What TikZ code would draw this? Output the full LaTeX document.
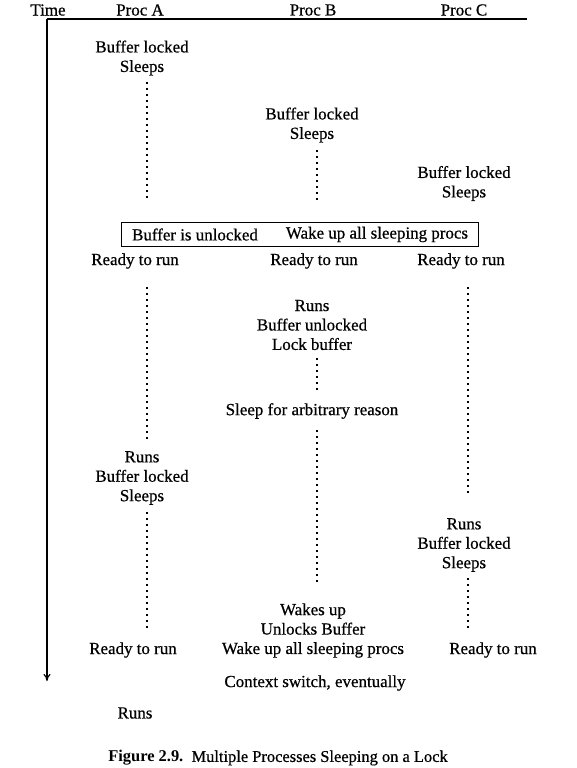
\documentclass[tikz,border=0pt]{standalone}
\usepackage{fontspec}
\setmainfont{Liberation Serif}[UprightFeatures={FakeBold=0.6}]
\usetikzlibrary{fit,arrows.meta}

\tikzset{
  lbl/.style={inner sep=0pt, align=center, font=\fontsize{17}{19.5}\selectfont},
  dotline/.style={line width=1.5bp, dash pattern=on 1.5bp off 4.5bp},
  hold/.style={draw, line width=1.1bp, inner sep=0pt}
}

\begin{document}
\begin{tikzpicture}[x=1bp, y=-1bp]
    \useasboundingbox (0,0) rectangle (577,768);
    % header and time axis
    \foreach \name/\x/\txt in {time/48/Time, pa/140/Proc A, pb/313/Proc B, pc/464/Proc C}{%
      \node[lbl] (\name) at (\x,10) {\txt};
    }
    \coordinate (top) at (47,19);
    \coordinate (right) at (527,19);
    \coordinate (bottom) at (47,681);
    \draw[line width=1.2bp] (top) -- (right);
    \draw[line width=1.2bp, -{To[length=7bp,width=7bp]}] (top) -- (bottom);
    % first round: everybody sleeps
    \node[lbl] (a1) at (142,58) {Buffer locked\\Sleeps};
    \node[lbl] (b1) at (312,125) {Buffer locked\\Sleeps};
    \node[lbl] (c1) at (464,183.5) {Buffer locked\\Sleeps};
    % the unlock
    \node[lbl] (unl) at (195,234.5) {Buffer is unlocked};
    \node[lbl] (wak) at (377,234.5) {Wake up all sleeping procs};
    \node[hold, fit={(unl) (wak)}, inner xsep=10bp, inner ysep=4.5bp] (box) {};
    \node[lbl] (ra) at (135,261) {Ready to run};
    \node[lbl] (rb) at (314,261) {Ready to run};
    \node[lbl] (rc) at (461,261) {Ready to run};
    % second round
    \node[lbl] (b2) at (312,325) {Runs\\Buffer unlocked\\Lock buffer};
    \node[lbl] (b3) at (312,411) {Sleep for arbitrary reason};
    \node[lbl] (a2) at (142,478) {Runs\\Buffer locked\\Sleeps};
    \node[lbl] (c2) at (464,545) {Runs\\Buffer locked\\Sleeps};
    \node[lbl] (b4) at (313,630.5) {Wakes up\\Unlocks Buffer\\Wake up all sleeping procs};
    \node[lbl] (ra2) at (133,650) {Ready to run};
    \node[lbl] (rc2) at (493,650) {Ready to run};
    \node[lbl] (ctx) at (315,683) {Context switch, eventually};
    \node[lbl] (runs) at (135,713) {Runs};
    % dotted waits, column x = 147 / 317 / 468
    \foreach \w/\x/\ya/\yb in {wa1/147/82/200, wb1/317/150/200, wa2/147/287/440,
                               wb2/317/358/390, wb3/317/430/583, wa3/147/512/630,
                               wc2/468/287/497, wc3/468/578/630}{%
      \coordinate (\w-s) at (\x,\ya);
      \coordinate (\w-e) at (\x,\yb);
      \draw[dotline] (\w-s) -- (\w-e);
    }
    % caption
    \node[inner sep=0pt, font=\fontsize{16.5}{19}\selectfont] (cap) at (278,758)
      {\textbf{Figure 2.9.}\ \ Multiple Processes Sleeping on a Lock};
\end{tikzpicture}
\end{document}
